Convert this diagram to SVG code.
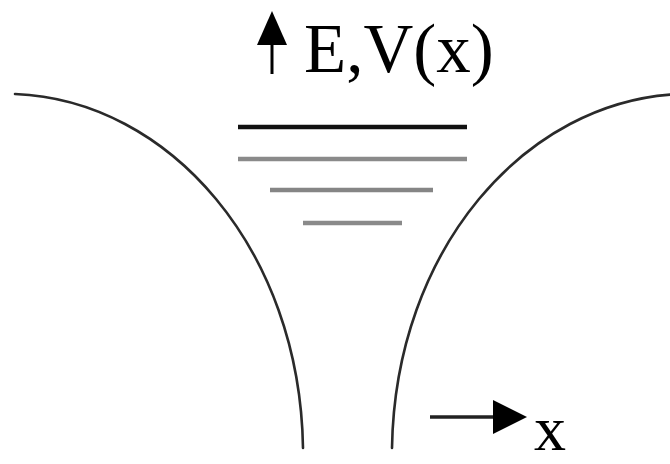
<svg xmlns="http://www.w3.org/2000/svg" width="670" height="464" viewBox="0 0 670 464">
<style>
.curve{fill:none;stroke:#2a2a2a;stroke-width:2.6;stroke-linecap:round}
.lvl{stroke-width:4.5}
.lbl{font-family:"Liberation Serif","Times New Roman",serif;fill:#000}
</style>
<rect width="670" height="464" fill="#fff"/>
<g id="potential">
<path class="curve" d="M15,94 C170,100 300,250 303,448"/>
<path class="curve" d="M680,94 C525,100 395,250 392,448"/>
</g>
<g id="levels">
<line class="lvl" x1="238" y1="127" x2="467" y2="127" stroke="#111"/>
<line class="lvl" x1="238" y1="159" x2="467" y2="159" stroke="#8a8a8a"/>
<line class="lvl" x1="270" y1="190" x2="433" y2="190" stroke="#858585"/>
<line class="lvl" x1="303" y1="223" x2="402" y2="223" stroke="#8a8a8a"/>
</g>
<g id="axis-E">
<line x1="272" y1="40" x2="272" y2="74" stroke="#000" stroke-width="3"/>
<polygon points="272,11 257,45 287,45" fill="#000"/>
<text class="lbl" x="304" y="72" font-size="69">E,V(x)</text>
</g>
<g id="axis-x">
<line x1="430" y1="417" x2="496" y2="417" stroke="#222" stroke-width="3.5"/>
<polygon points="527,417 493,400 493,434" fill="#000"/>
<text class="lbl" x="534" y="450" font-size="64">x</text>
</g>
</svg>
